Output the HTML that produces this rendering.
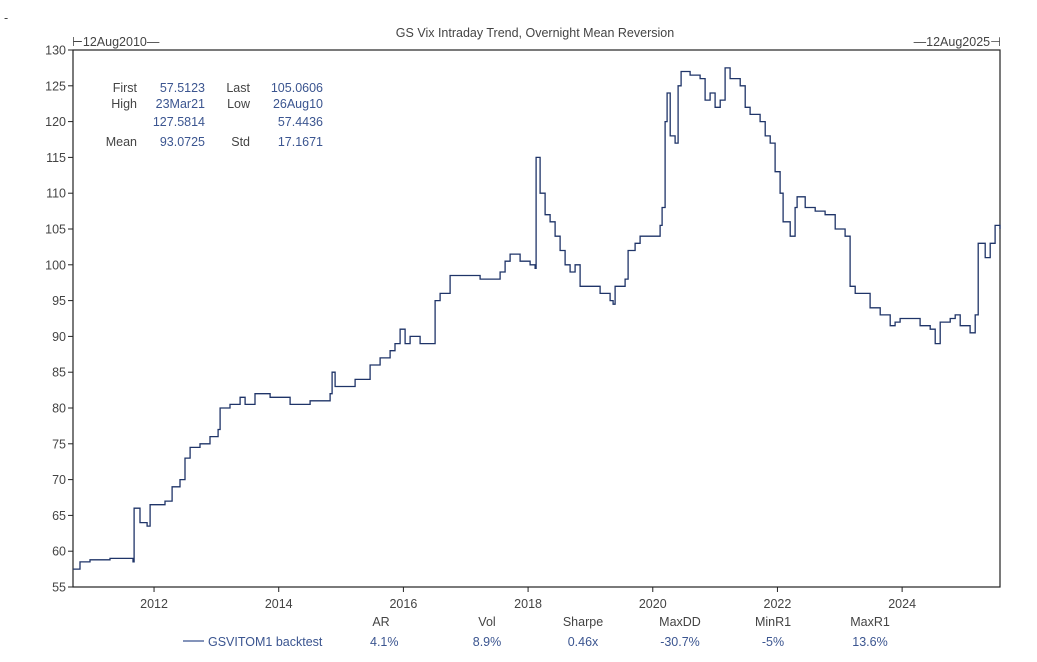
<!DOCTYPE html>
<html><head><meta charset="utf-8"><style>
body{margin:0;background:#fff;}
svg{display:block;font-family:"Liberation Sans",sans-serif;}
.lab{fill:#444;font-size:12.5px}
.val{fill:#3b5590;font-size:12.5px}
</style></head><body>
<svg id="chart" width="1037" height="662">
<text x="4" y="22" class="lab">-</text>
<text x="535" y="37" text-anchor="middle" class="lab" font-size="12">GS Vix Intraday Trend, Overnight Mean Reversion</text>
<text x="72" y="46" class="lab">⊢12Aug2010—</text>
<text x="1001" y="46" text-anchor="end" class="lab">—12Aug2025⊣</text>
<rect x="73" y="50" width="927" height="537" fill="none" stroke="#222" stroke-width="1.2"/>
<g id="yaxis"></g>
<g id="xaxis"></g>
<g>
<text x="137" y="92" text-anchor="end" class="lab">First</text><text x="205" y="92" text-anchor="end" class="val">57.5123</text>
<text x="250" y="92" text-anchor="end" class="lab">Last</text><text x="323" y="92" text-anchor="end" class="val">105.0606</text>
<text x="137" y="108" text-anchor="end" class="lab">High</text><text x="205" y="108" text-anchor="end" class="val">23Mar21</text>
<text x="250" y="108" text-anchor="end" class="lab">Low</text><text x="323" y="108" text-anchor="end" class="val">26Aug10</text>
<text x="205" y="126" text-anchor="end" class="val">127.5814</text><text x="323" y="126" text-anchor="end" class="val">57.4436</text>
<text x="137" y="146" text-anchor="end" class="lab">Mean</text><text x="205" y="146" text-anchor="end" class="val">93.0725</text>
<text x="250" y="146" text-anchor="end" class="lab">Std</text><text x="323" y="146" text-anchor="end" class="val">17.1671</text>
</g>
<path id="series" fill="none" stroke="#1f3468" stroke-width="1.3"/>
<g>
<text x="381" y="626" text-anchor="middle" class="lab">AR</text>
<text x="487" y="626" text-anchor="middle" class="lab">Vol</text>
<text x="583" y="626" text-anchor="middle" class="lab">Sharpe</text>
<text x="680" y="626" text-anchor="middle" class="lab">MaxDD</text>
<text x="773" y="626" text-anchor="middle" class="lab">MinR1</text>
<text x="870" y="626" text-anchor="middle" class="lab">MaxR1</text>
<line x1="183" y1="641" x2="204" y2="641" stroke="#3b5590" stroke-width="1.3"/>
<text x="208" y="646" class="val">GSVITOM1 backtest</text>
<text x="370" y="646" class="val">4.1%</text>
<text x="487" y="646" text-anchor="middle" class="val">8.9%</text>
<text x="583" y="646" text-anchor="middle" class="val">0.46x</text>
<text x="680" y="646" text-anchor="middle" class="val">-30.7%</text>
<text x="773" y="646" text-anchor="middle" class="val">-5%</text>
<text x="870" y="646" text-anchor="middle" class="val">13.6%</text>
</g>
</svg>
<script>
const yTicks=[55,60,65,70,75,80,85,90,95,100,105,110,115,120,125,130];
const xTicks=[2012,2014,2016,2018,2020,2022,2024];
const dates=[2010.70,2010.813,2010.973,2011.294,2011.455,2011.663,2011.68,2011.775,2011.888,2011.936,2012.096,2012.176,2012.289,2012.417,2012.497,2012.578,2012.738,2012.898,2013.027,2013.059,2013.219,2013.380,2013.460,2013.620,2013.781,2013.861,2014.022,2014.182,2014.342,2014.503,2014.663,2014.824,2014.856,2014.904,2015.064,2015.225,2015.385,2015.465,2015.626,2015.786,2015.866,2015.947,2016.027,2016.107,2016.268,2016.460,2016.508,2016.588,2016.749,2016.909,2017.070,2017.230,2017.390,2017.551,2017.631,2017.711,2017.872,2018.032,2018.112,2018.128,2018.193,2018.273,2018.353,2018.433,2018.514,2018.594,2018.674,2018.754,2018.835,2018.995,2019.156,2019.316,2019.364,2019.396,2019.476,2019.557,2019.605,2019.717,2019.797,2019.877,2020.038,2020.118,2020.150,2020.198,2020.230,2020.279,2020.359,2020.407,2020.455,2020.599,2020.760,2020.840,2020.920,2021.000,2021.081,2021.161,2021.241,2021.402,2021.482,2021.562,2021.722,2021.803,2021.883,2021.963,2022.043,2022.091,2022.204,2022.284,2022.316,2022.445,2022.605,2022.765,2022.926,2023.086,2023.166,2023.247,2023.327,2023.487,2023.648,2023.808,2023.888,2023.968,2024.129,2024.289,2024.450,2024.530,2024.610,2024.771,2024.851,2024.931,2025.091,2025.172,2025.220,2025.332,2025.412,2025.492,2025.57];
const values=[57.5,58.5,58.8,59,59,58.5,66,64,63.5,66.5,66.5,67,69,70,73,74.5,75,76,77,80,80.5,81.5,80.5,82,82,81.5,81.5,80.5,80.5,81,81,82,85,83,83,84,84,86,87,88,89,91,89,90,89,89,95,96,98.5,98.5,98.5,98,98,99,100.5,101.5,100.5,100,99.5,115,110,107,106,104,102,100,99,100,97,97,96,95,94.5,97,97,98,102,103,104,104,104,105.5,108,120,124,118,117,125,127,126.5,126,123,124,122,123,127.5,126,125,122,121,120,118,117,113,110,106,104,108,109.5,108,107.5,107,105,104,97,96,96,94,93,91.5,92,92.5,92.5,91.5,91,89,92,92.5,93,91.5,90.5,93,103,101,103,105.5,105];
const X0=73,X1=1000,Y0=50,Y1=587,D0=2010.70,D1=2025.57,V0=55,V1=130;
const sx=t=>X0+(t-D0)/(D1-D0)*(X1-X0);
const sy=v=>Y1-(v-V0)/(V1-V0)*(Y1-Y0);
const NS='http://www.w3.org/2000/svg';
const ya=document.getElementById('yaxis'),xa=document.getElementById('xaxis');
yTicks.forEach(v=>{
 const l=document.createElementNS(NS,'line');
 l.setAttribute('x1',X0-5);l.setAttribute('x2',X0);l.setAttribute('y1',sy(v));l.setAttribute('y2',sy(v));l.setAttribute('stroke','#222');
 
 
 ya.appendChild(l);
 const t=document.createElementNS(NS,'text');
 t.setAttribute('x',X0-7);t.setAttribute('y',sy(v)+4.5);t.setAttribute('text-anchor','end');t.setAttribute('class','lab');t.textContent=v;
 
 
 ya.appendChild(t);
});
xTicks.forEach(v=>{
 const l=document.createElementNS(NS,'line');
 l.setAttribute('x1',sx(v));l.setAttribute('x2',sx(v));l.setAttribute('y1',Y1);l.setAttribute('y2',Y1+5);l.setAttribute('stroke','#222');
 
 
 xa.appendChild(l);
 const t=document.createElementNS(NS,'text');
 t.setAttribute('x',sx(v));t.setAttribute('y',Y1+21);t.setAttribute('text-anchor','middle');t.setAttribute('class','lab');t.textContent=v;
 
 
 xa.appendChild(t);
});
let d='M'+sx(dates[0]).toFixed(1)+','+sy(values[0]).toFixed(1);
for(let i=1;i<dates.length;i++){d+='H'+sx(dates[i]).toFixed(1)+'V'+sy(values[i]).toFixed(1);}
document.getElementById('series').setAttribute('d',d);
</script>
</body></html>
